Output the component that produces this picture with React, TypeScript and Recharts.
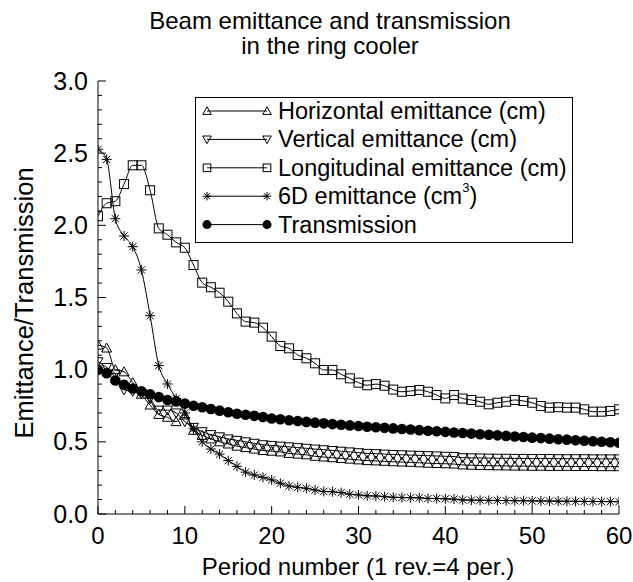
import React from "react";
import { Legend, Line, LineChart, XAxis, YAxis } from "recharts";

const PERIODS = [
  0, 1, 2, 3, 4, 5, 6, 7, 8, 9, 10, 11, 12, 13, 14, 15, 16, 17, 18, 19, 20,
  21, 22, 23, 24, 25, 26, 27, 28, 29, 30, 31, 32, 33, 34, 35, 36, 37, 38, 39, 40,
  41, 42, 43, 44, 45, 46, 47, 48, 49, 50, 51, 52, 53, 54, 55, 56, 57, 58, 59, 60,
];

const HORIZONTAL = [
  1.17, 1.15, 1.0, 0.985, 0.91, 0.83, 0.755, 0.69, 0.67, 0.64, 0.686,
  0.58, 0.545, 0.52, 0.5, 0.485, 0.47, 0.46, 0.45, 0.44, 0.435,
  0.43, 0.42, 0.415, 0.41, 0.4, 0.395, 0.39, 0.385, 0.38, 0.375,
  0.37, 0.368, 0.365, 0.362, 0.36, 0.358, 0.355, 0.352, 0.35, 0.348,
  0.346, 0.34, 0.338, 0.336, 0.335, 0.334, 0.333, 0.332, 0.332, 0.331,
  0.331, 0.33, 0.33, 0.33, 0.329, 0.329, 0.329, 0.328, 0.328, 0.328,
];

const VERTICAL = [
  1.055, 1.015, 0.97, 0.86, 0.85, 0.835, 0.8, 0.72, 0.72, 0.7, 0.64,
  0.6, 0.57, 0.55, 0.535, 0.52, 0.51, 0.5, 0.49, 0.48, 0.475,
  0.47, 0.465, 0.46, 0.455, 0.45, 0.445, 0.44, 0.435, 0.43, 0.425,
  0.42, 0.418, 0.415, 0.412, 0.41, 0.408, 0.406, 0.404, 0.402, 0.4,
  0.398, 0.39, 0.389, 0.388, 0.387, 0.386, 0.386, 0.385, 0.385, 0.384,
  0.384, 0.384, 0.383, 0.383, 0.383, 0.383, 0.382, 0.382, 0.382, 0.382,
];

const LONGITUDINAL = [
  2.063, 2.153, 2.167, 2.286, 2.416, 2.416, 2.243, 1.979, 1.935, 1.882, 1.845,
  1.725, 1.603, 1.571, 1.533, 1.471, 1.39, 1.333, 1.326, 1.291, 1.229,
  1.164, 1.148, 1.102, 1.079, 1.044, 0.998, 0.998, 0.968, 0.94, 0.91,
  0.892, 0.9, 0.889, 0.862, 0.847, 0.852, 0.859, 0.847, 0.824, 0.801,
  0.824, 0.8, 0.79, 0.778, 0.76, 0.771, 0.778, 0.79, 0.783, 0.771,
  0.748, 0.737, 0.74, 0.737, 0.737, 0.725, 0.709, 0.709, 0.714, 0.725,
];

const SIX_D = [
  2.527, 2.457, 2.046, 1.926, 1.852, 1.691, 1.374, 1.028, 0.901, 0.8, 0.7,
  0.59, 0.5, 0.45, 0.415, 0.37, 0.33, 0.29, 0.27, 0.254, 0.236,
  0.213, 0.194, 0.185, 0.178, 0.166, 0.156, 0.154, 0.148, 0.137, 0.132,
  0.126, 0.125, 0.12, 0.116, 0.114, 0.113, 0.112, 0.108, 0.107, 0.105,
  0.103, 0.097, 0.096, 0.095, 0.094, 0.094, 0.093, 0.092, 0.092, 0.091,
  0.09, 0.09, 0.089, 0.088, 0.088, 0.087, 0.087, 0.086, 0.086, 0.085,
];

const TRANSMISSION = [
  1.0, 0.975, 0.925, 0.895, 0.87, 0.85, 0.83, 0.81, 0.79, 0.78, 0.765,
  0.75, 0.74, 0.727, 0.716, 0.705, 0.695, 0.688, 0.68, 0.672, 0.662,
  0.656, 0.65, 0.644, 0.638, 0.633, 0.628, 0.623, 0.618, 0.614, 0.61,
  0.605, 0.601, 0.597, 0.593, 0.589, 0.585, 0.581, 0.577, 0.573, 0.569,
  0.565, 0.561, 0.557, 0.553, 0.549, 0.545, 0.541, 0.537, 0.533, 0.529,
  0.526, 0.522, 0.518, 0.515, 0.511, 0.508, 0.504, 0.501, 0.497, 0.494,
];

const X_TICKS = [0, 2, 4, 6, 8, 10, 12, 14, 16, 18, 20, 22, 24, 26, 28, 30, 32, 34, 36, 38, 40, 42, 44, 46, 48, 50, 52, 54, 56, 58, 60];
const Y_TICKS = [
  0, 0.1, 0.2, 0.3, 0.4, 0.5, 0.6, 0.7, 0.8, 0.9, 1.0, 1.1, 1.2, 1.3, 1.4, 1.5,
  1.6, 1.7, 1.8, 1.9, 2.0, 2.1, 2.2, 2.3, 2.4, 2.5, 2.6, 2.7, 2.8, 2.9, 3.0,
];

const FONT = '"Liberation Sans", Arial, Helvetica, sans-serif';
const W = 633;
const H = 582;

const rows = PERIODS.map((p, i) => ({
  period: p,
  horizontal: HORIZONTAL[i],
  vertical: VERTICAL[i],
  longitudinal: LONGITUDINAL[i],
  sixD: SIX_D[i],
  transmission: TRANSMISSION[i],
}));

// markers
type MP = { cx?: number; cy?: number; s?: number };

function TriUp({ cx = 0, cy = 0, s = 1 }: MP) {
  return (
    <polygon
      points={`${cx},${cy - 5 * s} ${cx - 5 * s},${cy + 4 * s} ${cx + 5 * s},${cy + 4 * s}`}
      fill="none"
      stroke="#000"
    />
  );
}

function TriDown({ cx = 0, cy = 0, s = 1 }: MP) {
  return (
    <polygon
      points={`${cx},${cy + 5 * s} ${cx - 5 * s},${cy - 4 * s} ${cx + 5 * s},${cy - 4 * s}`}
      fill="none"
      stroke="#000"
    />
  );
}

function Square({ cx = 0, cy = 0, s = 1 }: MP) {
  return <rect x={cx - 4.5 * s} y={cy - 4.5 * s} width={9 * s} height={9 * s} fill="none" stroke="#000" />;
}

function Star({ cx = 0, cy = 0, s = 1 }: MP) {
  const r = 5 * s;
  const d = 3.6 * s;
  return (
    <path
      d={`M${cx - r},${cy}H${cx + r}M${cx},${cy - r}V${cy + r}M${cx - d},${cy - d}L${cx + d},${cy + d}M${cx - d},${cy + d}L${cx + d},${cy - d}`}
      stroke="#000"
      fill="none"
    />
  );
}

function Dot({ cx = 0, cy = 0, s = 1 }: MP) {
  return <circle cx={cx} cy={cy} r={5.3 * s} fill="#000" />;
}

const SERIES = [
  { key: "horizontal", name: "Horizontal emittance (cm)", M: TriUp },
  { key: "vertical", name: "Vertical emittance (cm)", M: TriDown },
  { key: "longitudinal", name: "Longitudinal emittance (cm)", M: Square },
  { key: "sixD", name: "6D emittance (cm3)", M: Star },
  { key: "transmission", name: "Transmission", M: Dot },
];

// ticks: inward, labels only on majors
function BottomTick(props: any) {
  const { x, y, payload } = props;
  const v = payload.value;
  const major = v % 10 === 0;
  return (
    <g>
      <line x1={x} x2={x} y1={y} y2={y - (major ? 8 : 4)} stroke="#000" />
      {major && (
        <text x={x} y={y + 30} textAnchor="middle" fontSize={24} fontFamily={FONT} fill="#000">
          {v}
        </text>
      )}
    </g>
  );
}

function TopTick(props: any) {
  const { x, y, payload } = props;
  const major = payload.value % 10 === 0;
  return <line x1={x} x2={x} y1={y} y2={y + (major ? 8 : 4)} stroke="#000" />;
}

const isMajorY = (v: number) => Math.abs(v * 2 - Math.round(v * 2)) < 1e-6;

function LeftTick(props: any) {
  const { x, y, payload } = props;
  const v = payload.value;
  const major = isMajorY(v);
  return (
    <g>
      <line x1={x} x2={x + (major ? 8 : 4)} y1={y} y2={y} stroke="#000" />
      {major && (
        <text x={x - 10} y={y + 8.5} textAnchor="end" fontSize={25} fontFamily={FONT} fill="#000">
          {v.toFixed(1)}
        </text>
      )}
    </g>
  );
}

function RightTick(props: any) {
  const { x, y, payload } = props;
  const major = isMajorY(payload.value);
  return <line x1={x} x2={x - (major ? 8 : 4)} y1={y} y2={y} stroke="#000" />;
}

function LegendBox() {
  return (
    <div
      style={{
        width: 378,
        height: 146,
        border: "1px solid #000",
        boxSizing: "border-box",
        background: "#fff",
      }}
    >
      <svg width={376} height={144} style={{ display: "block" }}>
        {SERIES.map((s, i) => {
          const y = 13 + i * 28.4;
          const M = s.M;
          return (
            <g key={s.key}>
              <line x1={11} x2={71} y1={y} y2={y} stroke="#000" />
              <M cx={11} cy={y} s={0.85} />
              <M cx={71} cy={y} s={0.85} />
              <text x={82} y={y} dominantBaseline="central" fontSize={23.5} fontFamily={FONT} fill="#000">
                {s.key === "sixD" ? (
                  <>
                    <tspan>6D emittance (cm</tspan>
                    <tspan fontSize={13} dy={-9}>3</tspan>
                    <tspan dy={9}>)</tspan>
                  </>
                ) : (
                  s.name
                )}
              </text>
            </g>
          );
        })}
      </svg>
    </div>
  );
}

export default function App() {
  return (
    <div style={{ position: "absolute", left: 0, top: 0, width: W, height: H, background: "#fff" }}>
      <LineChart width={W} height={H} data={rows} margin={{ top: 81, right: 14, bottom: 28, left: 38 }}>
        <XAxis
          dataKey="period"
          type="number"
          domain={[0, 60]}
          allowDataOverflow
          ticks={X_TICKS}
          interval={0}
          tickSize={0}
          tickMargin={0}
          tickLine={false}
          axisLine={{ stroke: "#000" }}
          tick={<BottomTick />}
          height={40}
        />
        <XAxis
          xAxisId="top"
          orientation="top"
          dataKey="period"
          type="number"
          domain={[0, 60]}
          allowDataOverflow
          ticks={X_TICKS}
          interval={0}
          tickSize={0}
          tickMargin={0}
          tickLine={false}
          axisLine={{ stroke: "#000" }}
          tick={<TopTick />}
          height={0}
        />
        <YAxis
          type="number"
          domain={[0, 3]}
          allowDataOverflow
          ticks={Y_TICKS}
          interval={0}
          tickSize={0}
          tickMargin={0}
          tickLine={false}
          axisLine={{ stroke: "#000" }}
          tick={<LeftTick />}
          width={60}
        />
        <YAxis
          yAxisId="right"
          orientation="right"
          type="number"
          domain={[0, 3]}
          allowDataOverflow
          ticks={Y_TICKS}
          interval={0}
          tickSize={0}
          tickMargin={0}
          tickLine={false}
          axisLine={{ stroke: "#000" }}
          tick={<RightTick />}
          width={0}
        />
        <Legend
          layout="horizontal"
          verticalAlign="middle"
          align="center"
          content={() => <LegendBox />}
          wrapperStyle={{ position: "absolute", left: 195, top: 97, width: 378, height: 146 }}
        />
        {SERIES.map((s) => {
          const M = s.M;
          return (
            <Line
              key={s.key}
              dataKey={s.key}
              name={s.name}
              type="monotone"
              stroke="#000"
              strokeWidth={1}
              isAnimationActive={false}
              dot={(p: any) => <M key={`${s.key}-${p.index}`} cx={p.cx} cy={p.cy} />}
              activeDot={false}
            />
          );
        })}
      </LineChart>
      <svg
        width={W}
        height={H}
        style={{ position: "absolute", left: 0, top: 0, pointerEvents: "none" }}
      >
        <g fontFamily={FONT} fontSize={24} fill="#000">
          <text x={330} y={29} textAnchor="middle">Beam emittance and transmission</text>
          <text x={330} y={54} textAnchor="middle">in the ring cooler</text>
          <text x={358} y={575} textAnchor="middle">Period number (1 rev.=4 per.)</text>
          <text transform="translate(33,303) rotate(-90)" textAnchor="middle" fontSize={25.5}>
            Emittance/Transmission
          </text>
        </g>
      </svg>
    </div>
  );
}
